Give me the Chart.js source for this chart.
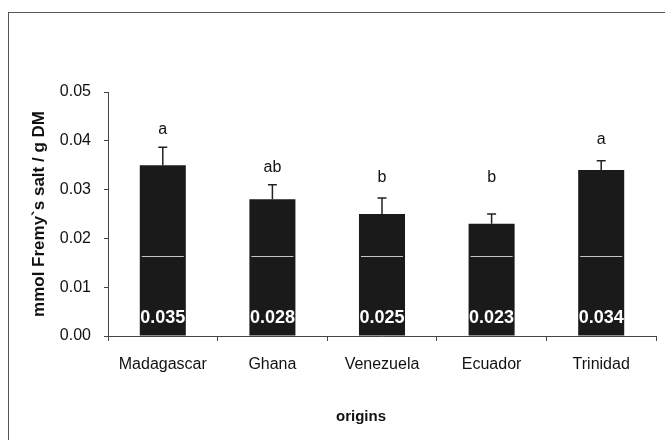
<!DOCTYPE html>
<html>
<head>
<meta charset="utf-8">
<script src="https://cdn.jsdelivr.net/npm/chart.js@4/dist/chart.umd.min.js"></script>
<style>
  html, body { margin: 0; padding: 0; background: #fff; overflow: hidden; }
  #wrap { position: relative; width: 665px; height: 440px; }
  #frame { position: absolute; left: 8px; top: 12px; width: 700px; height: 500px;
           border-left: 1px solid #555; border-top: 1px solid #555; }
  canvas { position: absolute; left: 0; top: 0; }
</style>
</head>
<body>
<div id="wrap">
  <div id="frame"></div>
  <canvas id="chart" width="665" height="440"></canvas>
</div>
<script>
// Data
var origins = ['Madagascar', 'Ghana', 'Venezuela', 'Ecuador', 'Trinidad'];
var values = [0.035, 0.028, 0.025, 0.023, 0.034];
var errors = [0.0037, 0.0030, 0.0033, 0.0020, 0.0019];
var letters = ['a', 'ab', 'b', 'b', 'a'];
var letterLevels = [0.0422, 0.0346, 0.0324, 0.0324, 0.0402]; // where each letter sits on the y scale
var yTicks = [0.00, 0.01, 0.02, 0.03, 0.04, 0.05];

var font = '"Liberation Sans", Arial, sans-serif';
var barColor = '#1a1a1a';

// Error bars, significance letters, value labels and x title
var annotations = {
    id: 'annotations',
    afterDatasetsDraw: function (chart) {
        var ctx = chart.ctx;
        var y = chart.scales.y;
        var meta = chart.getDatasetMeta(0);
        ctx.save();

        // faint white scan line across bars
        var yl = Math.round(y.getPixelForValue(0.0164)) + 0.5;
        ctx.strokeStyle = 'rgba(255,255,255,0.75)';
        ctx.lineWidth = 1;
        meta.data.forEach(function (bar) {
            ctx.beginPath();
            ctx.moveTo(bar.x - bar.width / 2 + 2, yl);
            ctx.lineTo(bar.x + bar.width / 2 - 2, yl);
            ctx.stroke();
        });

        meta.data.forEach(function (bar, i) {
            var top = y.getPixelForValue(values[i]);
            var errTop = y.getPixelForValue(values[i] + errors[i]);

            ctx.strokeStyle = '#222';
            ctx.lineWidth = 1.5;
            ctx.beginPath();
            ctx.moveTo(bar.x, top);
            ctx.lineTo(bar.x, errTop);
            ctx.moveTo(bar.x - 4.5, errTop);
            ctx.lineTo(bar.x + 4.5, errTop);
            ctx.stroke();

            ctx.fillStyle = '#111';
            ctx.font = '16px ' + font;
            ctx.textAlign = 'center';
            ctx.textBaseline = 'middle';
            ctx.fillText(letters[i], bar.x, y.getPixelForValue(letterLevels[i]));

            ctx.fillStyle = '#fff';
            ctx.font = 'bold 18px ' + font;
            ctx.fillText(values[i].toFixed(3), bar.x, y.getPixelForValue(0) - 18);
        });

        ctx.fillStyle = '#111';
        ctx.font = 'bold 15px ' + font;
        ctx.textAlign = 'center';
        ctx.textBaseline = 'middle';
        ctx.fillText('origins', 361, 417);
        ctx.restore();
    }
};

new Chart(document.getElementById('chart'), {
    type: 'bar',
    data: {
        labels: origins,
        datasets: [{
            data: values,
            backgroundColor: barColor,
            borderWidth: 0,
            categoryPercentage: 0.42,
            barPercentage: 1.0
        }]
    },
    options: {
        responsive: false,
        animation: false,
        layout: { padding: { left: 0, top: 92, right: 9, bottom: 0 } },
        plugins: {
            legend: { display: false },
            tooltip: { enabled: false }
        },
        scales: {
            x: {
                offset: true,
                grid: {
                    offset: true,
                    drawOnChartArea: false,
                    drawTicks: true,
                    tickLength: 5,
                    color: '#444'
                },
                border: { color: '#444', width: 1 },
                ticks: {
                    color: '#111',
                    padding: 14,
                    font: { family: font, size: 16 }
                },
                afterFit: function (scale) { scale.height = 104; }
            },
            y: {
                min: 0,
                max: 0.05,
                afterBuildTicks: function (scale) {
                    scale.ticks = yTicks.map(function (v) { return { value: v }; });
                },
                grid: {
                    drawOnChartArea: false,
                    drawTicks: true,
                    tickLength: 4,
                    color: '#444'
                },
                border: { color: '#444', width: 1 },
                ticks: {
                    color: '#111',
                    padding: 13,
                    font: { family: font, size: 16 },
                    callback: function (value) { return Number(value).toFixed(2); }
                },
                title: {
                    display: true,
                    text: 'mmol Fremy`s salt / g DM',
                    color: '#111',
                    font: { family: font, size: 17, weight: 'bold' },
                    padding: { top: 29, bottom: 0 }
                },
                afterFit: function (scale) { scale.width = 108; }
            }
        }
    },
    plugins: [annotations]
});
</script>
</body>
</html>
